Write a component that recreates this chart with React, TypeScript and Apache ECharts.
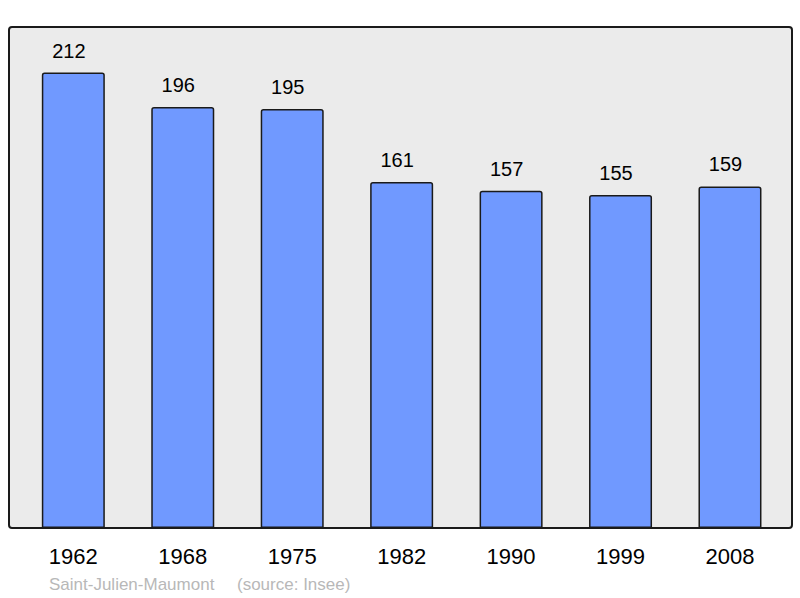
import React, { useEffect, useRef } from "react";
import * as echarts from "echarts";

const years = ["1962", "1968", "1975", "1982", "1990", "1999", "2008"];
const population = [212, 196, 195, 161, 157, 155, 159];
const footerName = "Saint-Julien-Maumont";
const footerSource = "(source: Insee)";

export default function App() {
  const ref = useRef<HTMLDivElement>(null);
  useEffect(() => {
    if (!ref.current) return;
    const chart = echarts.init(ref.current, null, { renderer: "svg" });
    const font = "Liberation Sans, Arial, sans-serif";
    chart.setOption({
      animation: false,
      backgroundColor: "#ffffff",
      grid: { left: 18.6, right: 15.3, top: 27, bottom: 70 },
      xAxis: {
        type: "category",
        data: years,
        axisLine: { show: false },
        axisTick: { show: false },
        axisLabel: {
          color: "#000",
          fontSize: 22,
          fontFamily: font,
          margin: 17,
        },
      },
      yAxis: {
        type: "value",
        min: 0,
        max: 233.2,
        show: false,
        splitLine: { show: false },
      },
      graphic: [
        {
          type: "rect",
          z: -10,
          shape: { x: 9, y: 27, width: 783, height: 501, r: 3 },
          style: { fill: "#ebebeb", stroke: "#1a1a1a", lineWidth: 2 },
        },
        {
          type: "text",
          x: 49,
          y: 584,
          style: {
            text: footerName,
            fill: "#b8b8b8",
            fontSize: 17,
            fontFamily: font,
            textVerticalAlign: "middle",
          },
        },
        {
          type: "text",
          x: 237,
          y: 584,
          style: {
            text: footerSource,
            fill: "#b8b8b8",
            fontSize: 17,
            fontFamily: font,
            textVerticalAlign: "middle",
          },
        },
      ],
      series: [
        {
          type: "bar",
          data: population,
          barWidth: 63,
          itemStyle: {
            color: "#7099ff",
            borderColor: "#1a1a1a",
            borderWidth: 1.5,
            borderRadius: [2, 2, 0, 0],
          },
          label: {
            show: true,
            position: "top",
            distance: 12,
            offset: [-4.5, 0],
            color: "#000",
            fontSize: 20,
            fontFamily: font,
          },
        },
      ],
    });
    return () => chart.dispose();
  }, []);
  return (
    <div
      ref={ref}
      style={{ position: "fixed", left: 0, top: 0, width: 800, height: 598 }}
    />
  );
}
